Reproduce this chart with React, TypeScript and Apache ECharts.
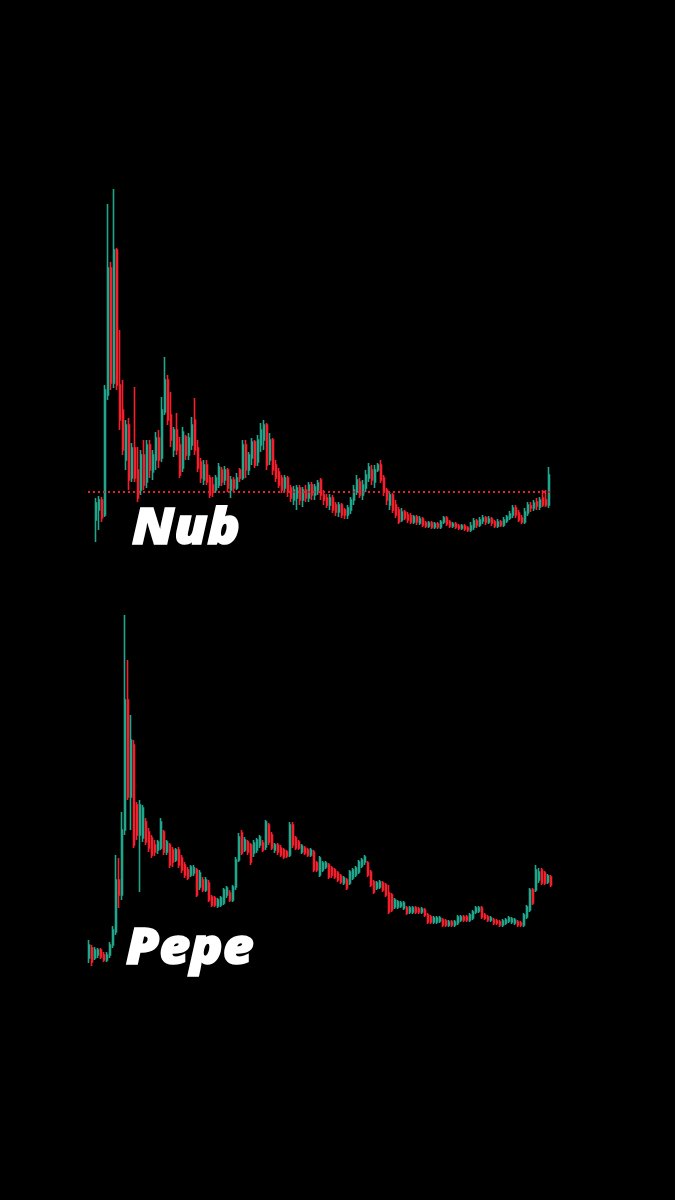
import React, { useEffect, useRef } from "react";
import * as echarts from "echarts";

// [open, close, low, high]
const nubCandles: number[][] = [
  [45,62,23,67],[55,65,35,69],[65,47,43,68],[50,175,48,180],[170,297,165,361],[297,182,175,303],[182,315,177,376],[315,180,175,317],
  [180,145,135,235],[155,115,110,185],[105,140,95,145],[140,85,75,147],[87,117,83,122],[117,87,83,178],[95,67,63,118],[75,110,70,115],
  [110,80,75,125],[83,120,77,125],[120,95,87,125],[93,110,85,115],[105,127,95,133],[127,105,97,135],[107,155,103,168],[153,185,150,208],
  [185,145,140,190],[150,125,118,173],[115,135,108,138],[135,115,110,152],[120,90,87,128],[97,133,93,138],[128,110,105,130],[110,127,105,132],
  [120,140,115,148],[145,115,110,167],[117,97,93,125],[103,87,82,107],[85,100,80,105],[100,83,80,105],[87,70,67,90],[80,73,68,88],
  [75,87,72,90],[80,98,77,102],[95,83,79,98],[85,95,80,99],[95,77,73,97],[75,85,67,89],[85,77,73,88],[77,87,75,92],
  [95,87,83,97],[87,120,85,125],[120,95,87,125],[95,110,90,113],[107,123,100,127],[123,100,97,125],[103,125,99,130],[120,135,113,142],
  [125,140,115,145],[140,100,95,142],[105,125,100,132],[125,95,90,127],[100,87,83,105],[93,80,77,97],[87,75,72,90],[77,87,73,90],
  [87,73,68,89],[77,67,63,80],[65,75,60,79],[67,77,55,80],[77,65,60,80],[65,75,58,78],[75,67,63,80],[67,80,63,83],
  [80,70,65,83],[70,78,65,81],[75,82,70,85],[85,70,65,87],[70,65,60,75],[67,60,57,71],[60,67,55,71],[67,55,52,70],
  [60,53,49,63],[53,60,48,63],[60,50,47,62],[55,50,46,57],[50,57,46,60],[55,65,51,68],[65,75,60,80],[73,85,70,90],
  [83,70,67,87],[70,80,65,85],[77,90,73,95],[87,98,83,102],[95,85,80,100],[83,95,77,100],[95,100,93,102],[100,85,82,105],
  [87,73,69,90],[75,65,60,77],[60,70,55,73],[70,55,52,72],[60,50,47,65],[55,43,41,58],[45,53,43,57],[53,47,45,55],
  [50,45,42,53],[49,43,41,52],[43,48,41,50],[48,43,40,50],[42,46,40,49],[46,40,38,48],[42,39,37,44],[39,42,37,44],
  [42,38,36,44],[38,41,36,43],[41,38,36,43],[38,43,36,45],[43,47,41,49],[47,41,39,49],[43,39,37,45],[39,41,37,43],
  [41,38,36,43],[39,37,35,41],[37,39,35,41],[39,36,34,41],[37,35,33,39],[35,39,33,43],[38,44,35,47],[44,40,37,46],
  [40,45,38,48],[44,47,41,50],[47,43,40,49],[43,46,41,49],[46,42,39,48],[43,39,37,45],[39,43,37,46],[43,40,38,45],
  [40,45,38,48],[44,48,42,50],[47,51,45,54],[50,57,47,60],[57,50,47,60],[52,45,43,55],[47,43,41,50],[43,53,41,57],
  [52,60,49,63],[59,57,53,63],[57,62,54,65],[63,59,55,67],[58,65,55,68],[67,60,58,75],[65,60,58,75],[60,90,57,98]
];

const nubLevel = 73;

const pepeCandles: number[][] = [
  [52,65,47,70],[62,48,44,65],[52,60,50,63],[55,60,52,62],[60,53,51,62],[55,50,48,58],[50,55,48,58],[55,65,52,68],
  [65,80,62,84],[78,130,75,155],[130,115,102,152],[115,180,110,198],[180,310,175,395],[310,213,210,350],[213,270,180,295],[265,165,162,270],
  [205,175,170,208],[175,205,118,210],[172,202,168,205],[188,168,165,192],[178,162,158,182],[172,155,152,175],[165,158,154,170],[160,168,156,170],
  [162,188,160,192],[178,158,155,180],[158,168,155,170],[165,145,142,167],[160,148,143,163],[150,160,148,162],[160,145,142,163],[152,140,137,155],
  [145,135,132,148],[140,132,130,143],[135,143,133,145],[137,142,134,145],[140,115,113,142],[123,137,120,140],[130,120,118,133],[120,130,118,133],
  [127,110,108,130],[113,105,103,115],[112,105,103,114],[104,110,102,112],[105,112,103,114],[107,120,105,122],[115,122,112,124],[117,110,108,120],
  [110,123,108,125],[123,150,120,153],[150,173,148,177],[177,157,155,180],[160,170,158,173],[168,158,155,170],[165,148,145,167],[157,167,153,170],
  [160,170,157,172],[165,173,162,175],[167,160,158,170],[163,188,160,190],[185,168,165,187],[175,162,160,178],[160,165,157,167],[165,158,155,167],
  [162,155,153,165],[160,153,151,162],[158,154,152,160],[155,185,153,188],[185,165,162,188],[172,162,160,174],[168,162,160,170],[158,164,156,166],
  [162,157,155,164],[160,155,153,162],[155,160,153,162],[158,140,138,160],[147,140,138,149],[135,152,133,154],[140,147,138,149],[143,147,141,149],
  [145,133,131,147],[142,135,132,144],[140,133,131,142],[137,130,128,139],[134,128,126,136],[127,132,125,134],[130,122,120,132],[127,138,125,140],
  [132,140,130,142],[135,142,133,144],[138,148,136,150],[144,150,142,152],[148,153,145,155],[147,135,133,149],[138,125,123,140],[128,118,116,130],
  [122,127,120,129],[123,128,121,130],[127,120,118,129],[125,115,113,127],[117,98,96,125],[115,100,98,117],[103,110,101,112],[103,108,101,110],
  [104,107,102,109],[102,107,100,109],[102,97,95,104],[98,102,96,104],[98,102,96,104],[102,98,96,104],[101,98,96,103],[98,101,96,103],
  [100,95,93,102],[95,88,86,97],[93,88,86,95],[88,92,86,94],[88,92,86,94],[89,92,87,94],[90,85,83,92],[89,85,83,91],
  [85,88,83,90],[88,85,83,90],[85,88,83,90],[87,93,85,95],[90,93,88,95],[93,90,88,95],[93,90,88,95],[90,95,88,97],
  [92,98,90,100],[98,102,96,104],[99,102,97,104],[102,93,91,104],[95,92,90,97],[93,90,88,95],[90,92,88,94],[90,87,85,92],
  [89,87,85,91],[88,85,83,90],[85,89,83,91],[87,90,85,92],[89,92,87,94],[88,91,86,93],[87,90,85,92],[88,85,83,90],
  [87,85,83,89],[85,95,83,97],[93,103,91,105],[100,120,98,122],[120,107,105,122],[120,140,118,145],[130,138,127,142],[140,127,125,142],
  [137,127,125,139],[128,134,126,136],[133,125,123,135]
];

const chartLabels = ["Nub", "Pepe"];

const UP = "#1fa68b";
const DOWN = "#f41e2c";

export default function App() {
  const ref = useRef<HTMLDivElement>(null);
  useEffect(() => {
    document.body.style.margin = "0";
    document.body.style.background = "#000";
    const chart = echarts.init(ref.current!, null, { renderer: "svg" });
    const nubCats = nubCandles.map((_, i) => "n" + i);
    const pepeCats = pepeCandles.map((_, i) => "p" + i);
    const candleStyle = {
      color: UP,
      color0: DOWN,
      borderColor: UP,
      borderColor0: DOWN,
      borderWidth: 1.6,
    };
    const yAx = (g: number) => ({ type: "value", gridIndex: g, min: 0, max: 420, show: false });
    const labelFont = 'italic 800 50px "Open Sans", Lato, sans-serif';
    chart.setOption({
      animation: false,
      backgroundColor: "#000",
      grid: [
        { left: 94.5, top: 145, width: 456, height: 420 },
        { left: 87.5, top: 590, width: 465, height: 420 },
        { left: 88, top: 145, width: 462, height: 420 },
      ],
      xAxis: [
        { type: "category", gridIndex: 0, data: nubCats, show: false },
        { type: "category", gridIndex: 1, data: pepeCats, show: false },
        { type: "value", gridIndex: 2, min: 0, max: 1, show: false },
      ],
      yAxis: [yAx(0), yAx(1), yAx(2)],
      series: [
        {
          type: "candlestick",
          xAxisIndex: 0,
          yAxisIndex: 0,
          data: nubCandles,
          barWidth: 1.5,
          itemStyle: candleStyle,
        },
        {
          type: "candlestick",
          xAxisIndex: 1,
          yAxisIndex: 1,
          data: pepeCandles,
          barWidth: 1.5,
          itemStyle: candleStyle,
        },
        {
          type: "line",
          xAxisIndex: 2,
          yAxisIndex: 2,
          data: [[0, nubLevel], [1, nubLevel]],
          symbol: "none",
          z: 5,
          lineStyle: { color: "#e3222d", width: 2, type: [2, 3] },
        },
      ],
      graphic: [
        {
          type: "text",
          x: 132,
          y: 500,
          scaleX: 1.07,
          z: 10,
          style: {
            text: chartLabels[0],
            fill: "#ffffff",
            stroke: "#ffffff",
            lineWidth: 1.5,
            font: labelFont,
          },
        },
        {
          type: "text",
          x: 126,
          y: 920,
          scaleX: 1.07,
          z: 10,
          style: {
            text: chartLabels[1],
            fill: "#ffffff",
            stroke: "#ffffff",
            lineWidth: 1.5,
            font: labelFont,
          },
        },
      ],
    });
    return () => chart.dispose();
  }, []);
  return (
    <div
      ref={ref}
      style={{ position: "absolute", left: 0, top: 0, width: 675, height: 1200, background: "#000" }}
    />
  );
}
